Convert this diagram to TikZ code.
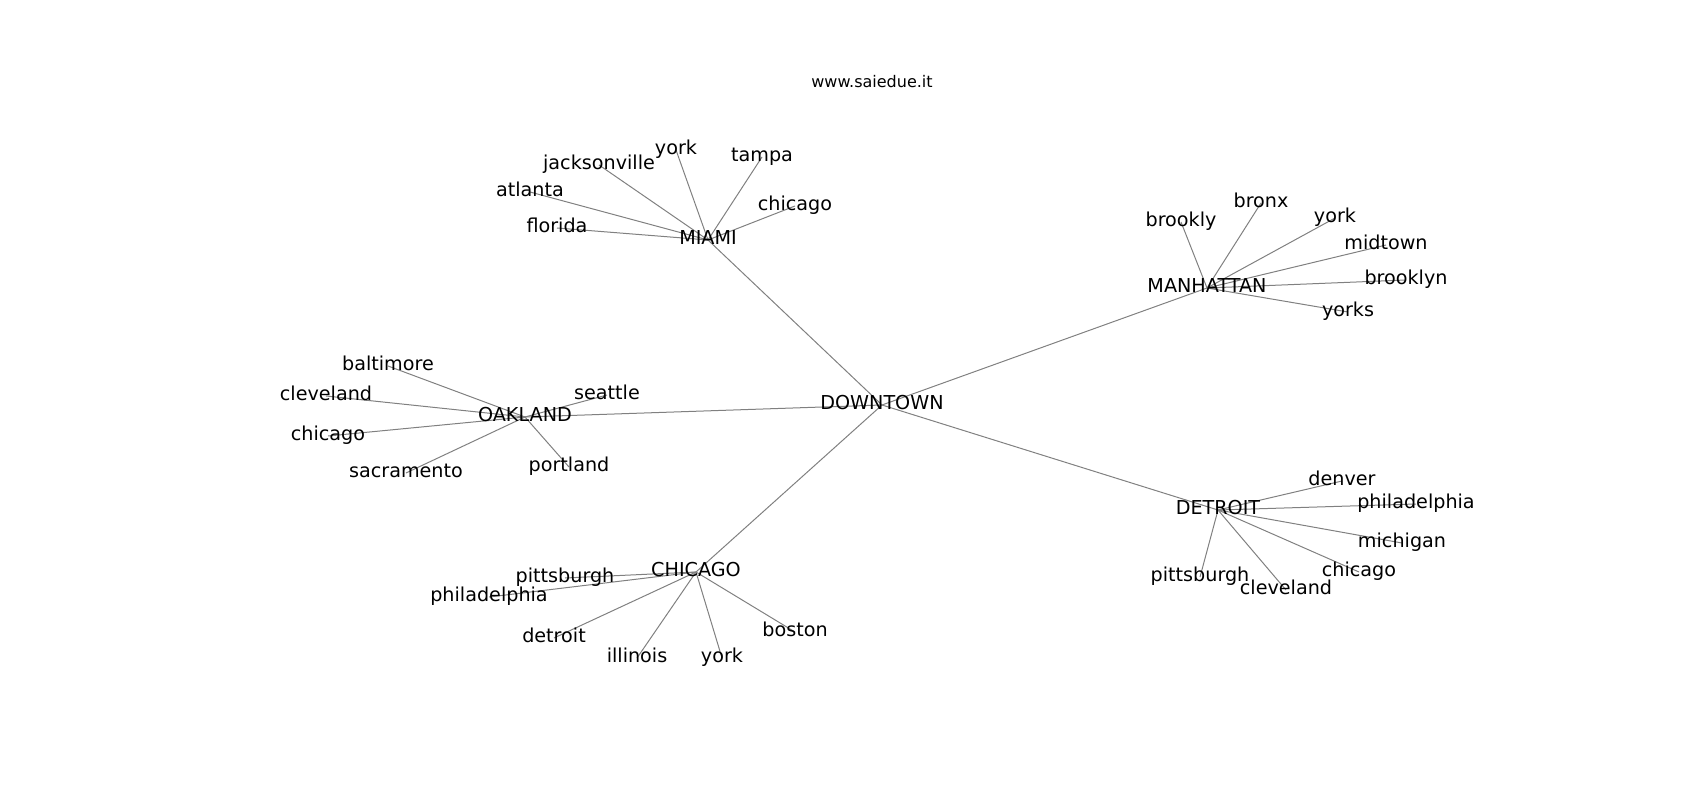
\documentclass[tikz,border=0pt]{standalone}
\usepackage{fontspec}
\setmainfont{DejaVu Sans}
\usetikzlibrary{backgrounds}
\begin{document}
\begin{tikzpicture}[x=0.6pt,y=-0.6pt,
  lbl/.style={inner sep=0pt,text height=0.76em,text depth=0.24em,font=\fontsize{11.5}{13}\selectfont,text=black},
  edge/.style={draw=black!50,line width=0.6pt}]
\path[use as bounding box] (0,0) rectangle (1700,800);
\node[inner sep=0pt,font=\fontsize{9.6}{11}\selectfont,anchor=base] (title) at (872,88) {www.saiedue.it};
% hubs
\node[lbl] (dt) at (882,405) {DOWNTOWN};
\node[lbl] (mia) at (708,240) {MIAMI};
\node[lbl] (man) at (1207,288) {MANHATTAN};
\node[lbl] (oak) at (525,417) {OAKLAND};
\node[lbl] (det) at (1218,510) {DETROIT};
\node[lbl] (chi) at (696,572) {CHICAGO};
% miami leaves
\node[lbl] (mjack) at (599,165) {jacksonville};
\node[lbl] (myork) at (676,150) {york};
\node[lbl] (mtampa) at (762,157) {tampa};
\node[lbl] (mchic) at (795,206) {chicago};
\node[lbl] (matl) at (530,192) {atlanta};
\node[lbl] (mflo) at (557,228) {florida};
% manhattan leaves
\node[lbl] (nbrooklyx) at (1181,222) {brookly};
\node[lbl] (nbronx) at (1261,203) {bronx};
\node[lbl] (nyork) at (1335,218) {york};
\node[lbl] (nmid) at (1386,245) {midtown};
\node[lbl] (nbrooklyn) at (1406,280) {brooklyn};
\node[lbl] (nyorks) at (1348,312) {yorks};
% oakland leaves
\node[lbl] (obalt) at (388,366) {baltimore};
\node[lbl] (oclev) at (326,396) {cleveland};
\node[lbl] (ochic) at (328,436) {chicago};
\node[lbl] (osac) at (406,473) {sacramento};
\node[lbl] (oport) at (569,467) {portland};
\node[lbl] (oseat) at (607,395) {seattle};
% detroit leaves
\node[lbl] (ddenv) at (1342,481) {denver};
\node[lbl] (dphil) at (1416,504) {philadelphia};
\node[lbl] (dmich) at (1402,543) {michigan};
\node[lbl] (dchic) at (1359,572) {chicago};
\node[lbl] (dpitt) at (1200,577) {pittsburgh};
\node[lbl] (dclev) at (1286,590) {cleveland};
% chicago leaves
\node[lbl] (cpitt) at (565,578) {pittsburgh};
\node[lbl] (cphil) at (489,597) {philadelphia};
\node[lbl] (cdet) at (554,638) {detroit};
\node[lbl] (cill) at (637,658) {illinois};
\node[lbl] (cyork) at (722,658) {york};
\node[lbl] (cbost) at (795,632) {boston};
\begin{scope}[on background layer]
\foreach \h in {mia,man,oak,det,chi} \draw[edge] (dt.center) -- (\h.center);
\foreach \l in {mjack,myork,mtampa,mchic,matl,mflo} \draw[edge] (mia.center) -- (\l.center);
\foreach \l in {nbrooklyx,nbronx,nyork,nmid,nbrooklyn,nyorks} \draw[edge] (man.center) -- (\l.center);
\foreach \l in {obalt,oclev,ochic,osac,oport,oseat} \draw[edge] (oak.center) -- (\l.center);
\foreach \l in {ddenv,dphil,dmich,dchic,dpitt,dclev} \draw[edge] (det.center) -- (\l.center);
\foreach \l in {cpitt,cphil,cdet,cill,cyork,cbost} \draw[edge] (chi.center) -- (\l.center);
\end{scope}
\end{tikzpicture}
\end{document}
